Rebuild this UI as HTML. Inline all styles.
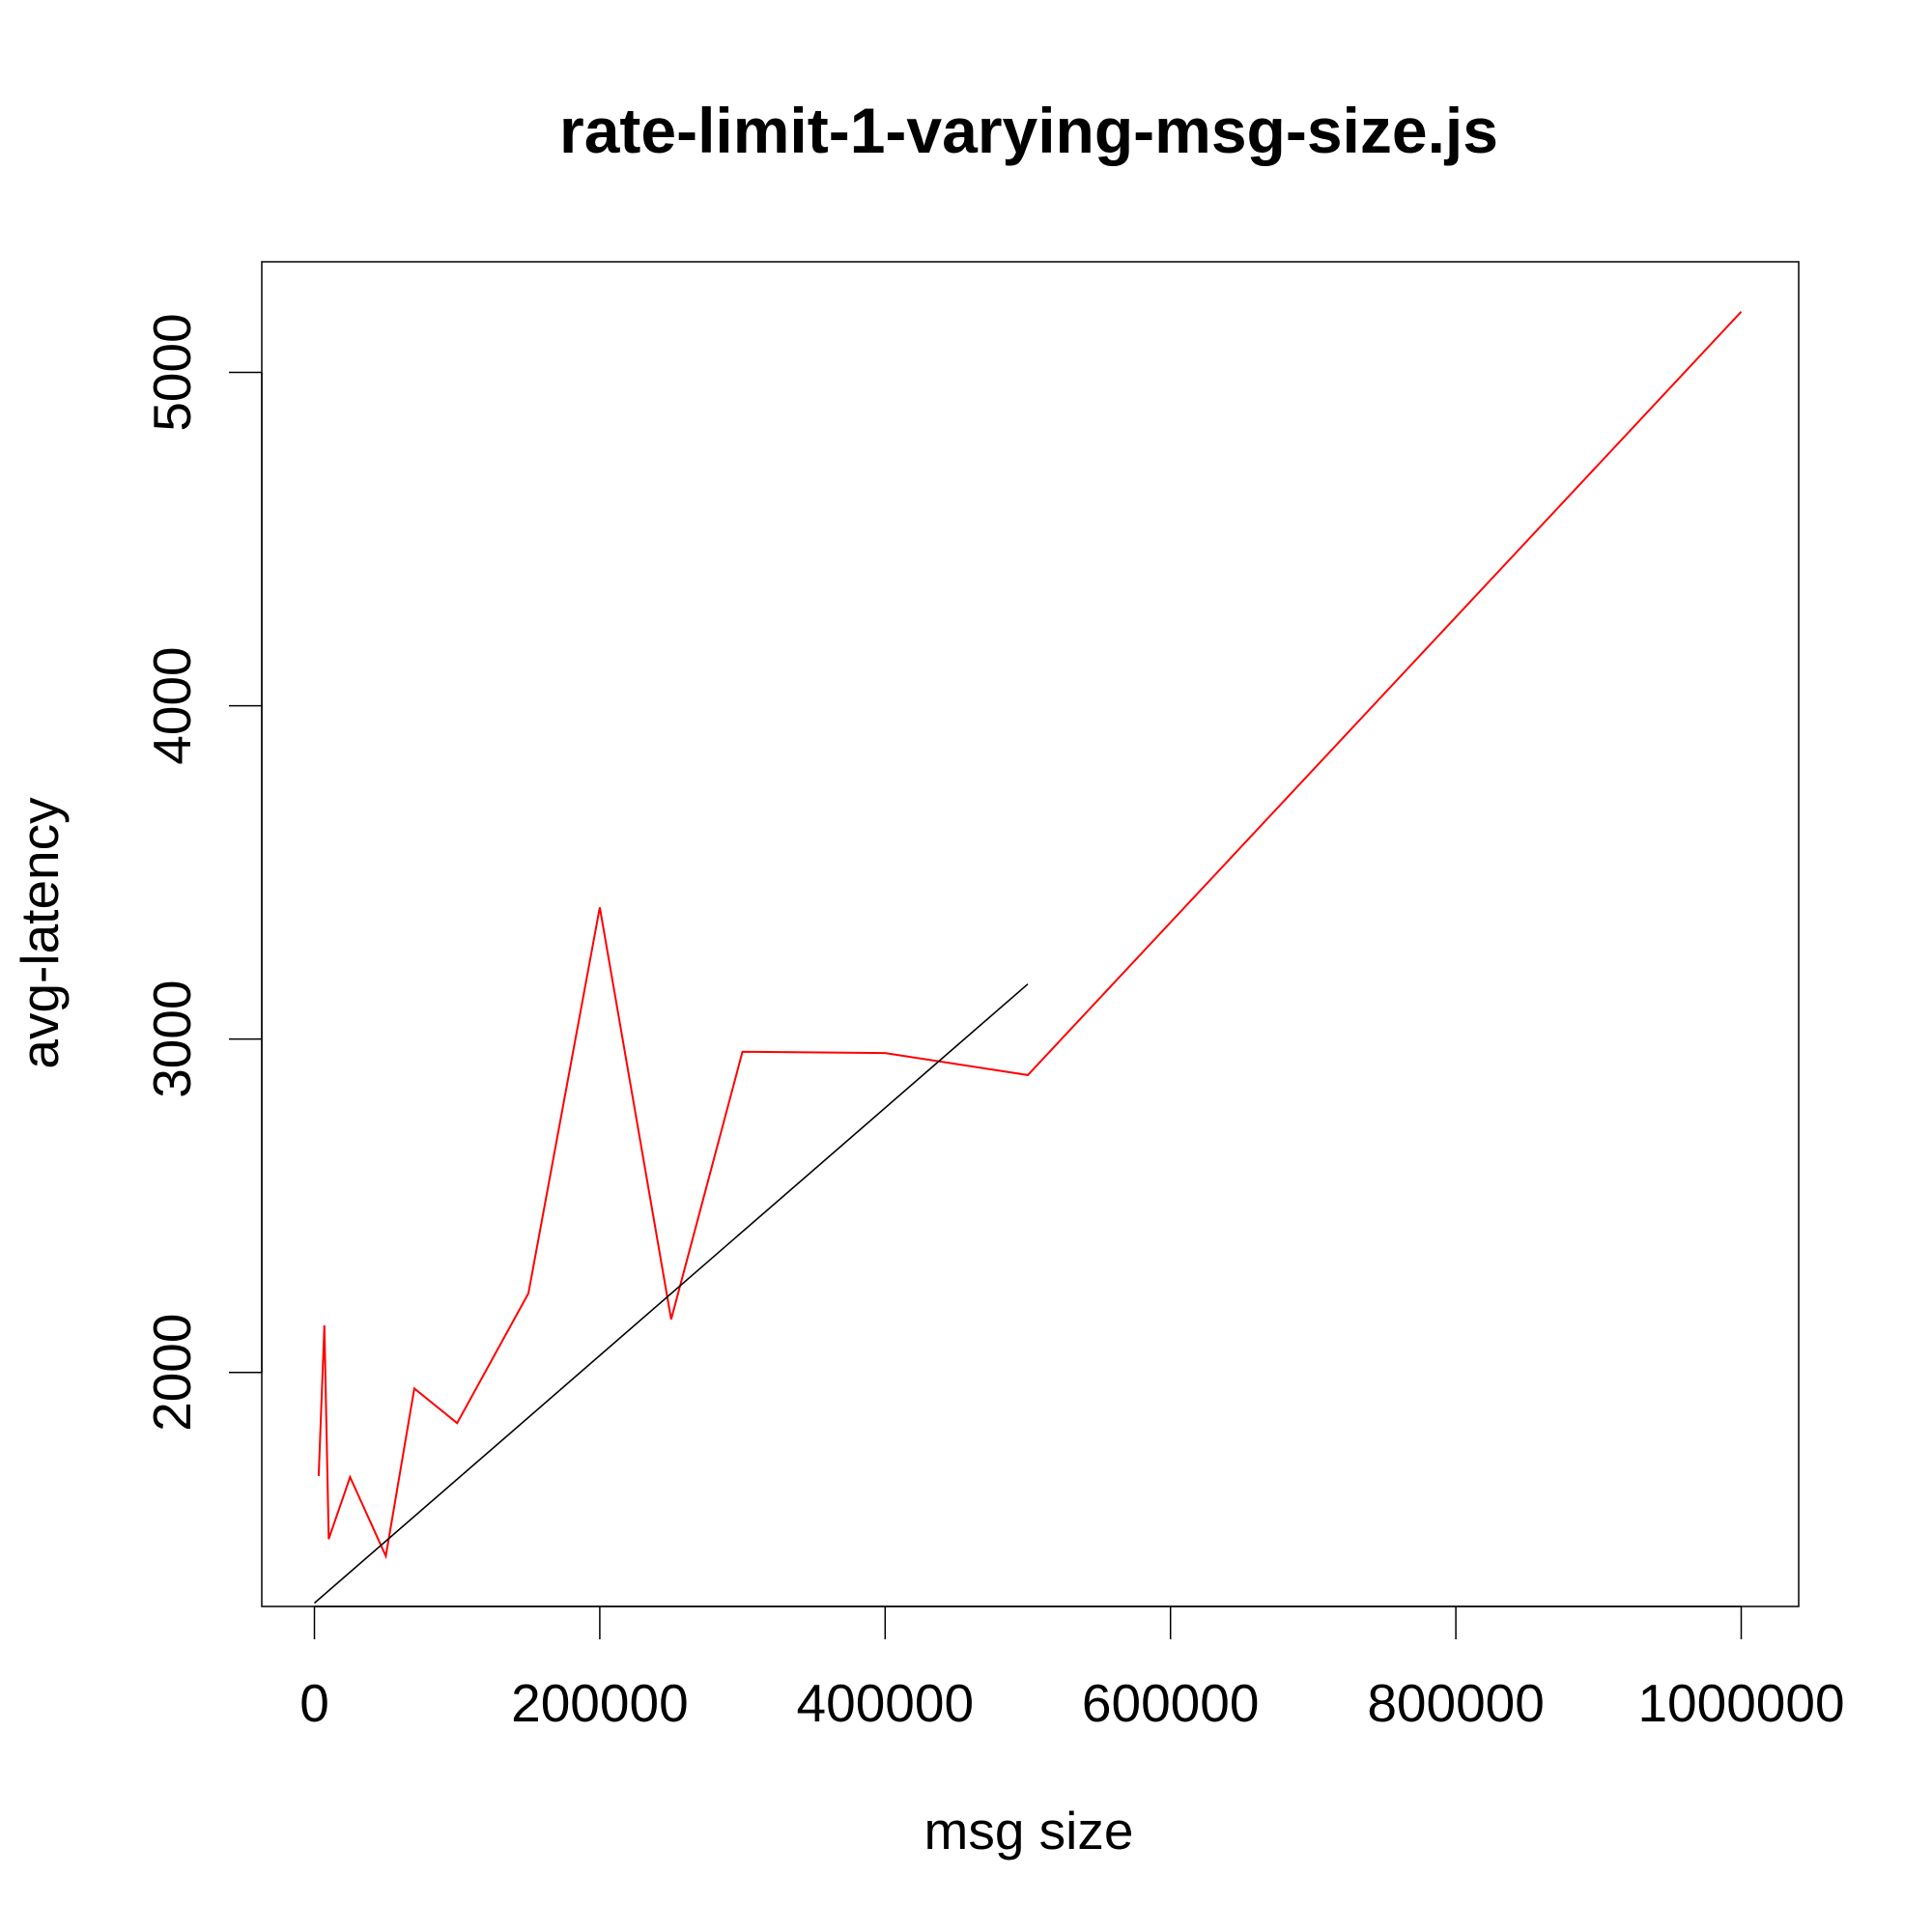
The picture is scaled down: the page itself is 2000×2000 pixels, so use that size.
<!DOCTYPE html>
<html><head><meta charset="utf-8"><style>
html,body{margin:0;padding:0;background:#fff;}
svg{display:block;font-family:"Liberation Sans",Arial,sans-serif;}
</style></head><body>
<svg id="chart" width="2000" height="2000" viewBox="0 0 2000 2000">
<rect x="0" y="0" width="2000" height="2000" fill="#fff"/>
<text x="1065" y="158" text-anchor="middle" font-size="66" font-weight="bold">rate-limit-1-varying-msg-size.js</text>
<rect x="271" y="271" width="1591" height="1392" fill="none" stroke="#000" stroke-width="1.5"/>
<g id="xaxis"></g>
<g id="yaxis"></g>
<text x="1065" y="1914" text-anchor="middle" font-size="55">msg size</text>
<text transform="translate(60,966) rotate(-90)" text-anchor="middle" font-size="55">avg-latency</text>
<g id="series"></g>
</svg>
<script>
const msgSizes = [3000, 7000, 10000, 25000, 50000, 70000, 100000, 150000, 200000, 250000, 300000, 400000, 500000, 1000000];
const latencies = [1689, 2141, 1500, 1686, 1449, 1952, 1848, 2237, 3395, 2159, 2962, 2958, 2892, 5182];
const fitX = [0, 500000];
const fitY = [1308, 3165];
const xTicks = [0, 200000, 400000, 600000, 800000, 1000000];
const yTicks = [2000, 3000, 4000, 5000];

const NS = "http://www.w3.org/2000/svg";
function sx(v){ return 325.5 + v * (1802.5 - 325.5) / 1000000; }
function sy(v){ return 1420.7 - (v - 2000) * (1420.7 - 385.5) / 3000; }
function mk(tag, attrs, parent){
  const e = document.createElementNS(NS, tag);
  for (const k in attrs) e.setAttribute(k, attrs[k]);
  parent.appendChild(e);
  return e;
}
const xg = document.getElementById('xaxis');
const yg = document.getElementById('yaxis');
const sg = document.getElementById('series');

const xl = mk('line', {x1: sx(xTicks[0]), x2: sx(xTicks[xTicks.length-1]), y1: 1663, y2: 1663, stroke: '#000', 'stroke-width': 1.5}, xg);


xTicks.forEach(t => {
  const l = mk('line', {x1: sx(t), x2: sx(t), y1: 1663, y2: 1697, stroke: '#000', 'stroke-width': 1.5}, xg);
  
  
  const tx = mk('text', {x: sx(t), y: 1782, 'text-anchor': 'middle', 'font-size': 55}, xg);
  tx.textContent = String(t);
  
  
});

const yl = mk('line', {x1: 271, x2: 271, y1: sy(yTicks[0]), y2: sy(yTicks[yTicks.length-1]), stroke: '#000', 'stroke-width': 1.5}, yg);


yTicks.forEach(t => {
  const l = mk('line', {x1: 237, x2: 271, y1: sy(t), y2: sy(t), stroke: '#000', 'stroke-width': 1.5}, yg);
  
  
  const tx = mk('text', {transform: 'translate(197,' + sy(t) + ') rotate(-90)', 'text-anchor': 'middle', 'font-size': 55}, yg);
  tx.textContent = String(t);
  
  
});

const pts = msgSizes.map((x, i) => sx(x).toFixed(1) + ',' + sy(latencies[i]).toFixed(1)).join(' ');
const pl = mk('polyline', {points: pts, fill: 'none', stroke: '#ff0000', 'stroke-width': 2}, sg);



const fl = mk('line', {x1: sx(fitX[0]), y1: sy(fitY[0]), x2: sx(fitX[1]), y2: sy(fitY[1]), stroke: '#000', 'stroke-width': 1.6}, sg);


</script>
</body></html>
